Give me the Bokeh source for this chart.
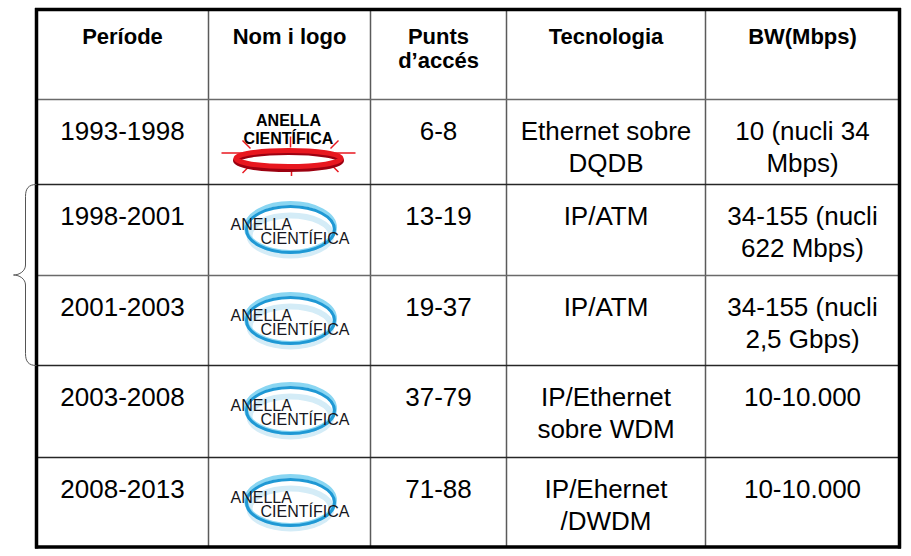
from bokeh.plotting import figure
from bokeh.models import Range1d, ColumnDataSource
from bokeh.core.properties import value
from bokeh.embed import file_html
from bokeh.resources import INLINE

# ---------------- data ----------------
headers = ["Període", "Nom i logo", "Punts\nd’accés", "Tecnologia", "BW(Mbps)"]
periods = ["1993-1998", "1998-2001", "2001-2003", "2003-2008", "2008-2013"]
logo_styles = ["red", "blue", "blue", "blue", "blue"]
access_points = ["6-8", "13-19", "19-37", "37-79", "71-88"]
technology = ["Ethernet sobre\nDQDB", "IP/ATM", "IP/ATM",
              "IP/Ethernet\nsobre WDM", "IP/Ehernet\n/DWDM"]
bandwidth = ["10 (nucli 34\nMbps)", "34-155 (nucli\n622 Mbps)",
             "34-155 (nucli\n2,5 Gbps)", "10-10.000", "10-10.000"]
logo_words = ["ANELLA", "CIENTÍFICA"]
brace_rows = [1, 2]  # rows grouped by the brace on the left

# ---------------- layout (page pixels) ----------------
col_edges = [36, 208, 370, 506, 705, 899]
row_edges = [9, 99, 184, 275, 365, 457, 546.5]
col_centers = [(a + b) / 2 for a, b in zip(col_edges[:-1], col_edges[1:])]

FONT = value("Liberation Sans")
W, H = 908, 553

p = figure(width=W, height=H, x_range=Range1d(0, W), y_range=Range1d(H, 0),
           output_backend="svg", toolbar_location=None, min_border=0,
           x_axis_location=None, y_axis_location=None)
p.grid.visible = False
p.outline_line_color = None
p.background_fill_color = "white"
p.border_fill_color = "white"

# ---------------- grid lines ----------------
inner_v = col_edges[1:-1]
p.segment(x0=inner_v, y0=[row_edges[0]] * len(inner_v), x1=inner_v,
          y1=[row_edges[-1]] * len(inner_v), line_color="#5a5a5a", line_width=1.5)
inner_h = row_edges[1:-1]
h_colors = ["#6a6a6a", "#262626", "#6a6a6a", "#262626", "#262626"]
p.segment(x0=[col_edges[0]] * len(inner_h), y0=inner_h, x1=[col_edges[-1]] * len(inner_h),
          y1=inner_h, line_color=h_colors, line_width=1.5)
# outer border
L, R, T, B = col_edges[0], col_edges[-1], row_edges[0], row_edges[-1]
p.segment(x0=[L, R, L - 1.5, L - 1.5], y0=[T - 1.5, T - 1.5, T, B],
          x1=[L, R, R + 1.5, R + 1.5], y1=[B + 1.5, B + 1.5, T, B],
          line_color="black", line_width=3.5)

# ---------------- brace ----------------
by0 = row_edges[brace_rows[0] + 1]
by1 = row_edges[brace_rows[-1] + 2]
bm = (by0 + by1) / 2
bx = L - 11
tip = L - 23
p.bezier(x0=[L, bx, tip, bx], y0=[by0, bm - 10, bm, by1 - 12],
         x1=[bx, tip, bx, L], y1=[by0 + 12, bm, bm + 10, by1],
         cx0=[L - 8, bx, tip + 6, bx], cy0=[by0, bm - 4, bm, by1 - 4],
         cx1=[bx, tip + 6, bx, L - 8], cy1=[by0 + 4, bm, bm + 4, by1],
         line_color="#555555", line_width=1)
p.segment(x0=[bx, bx], y0=[by0 + 12, bm + 10], x1=[bx, bx], y1=[bm - 10, by1 - 12],
          line_color="#555555", line_width=1)

# ---------------- logos ----------------
lx = col_centers[1]
for r, style in enumerate(logo_styles):
    top = row_edges[r + 1]
    if style == "red":
        cx, cy = lx - 1, top + 59.5
        p.segment(x0=[cx - 67], y0=[cy - 6], x1=[cx + 67], y1=[cy - 6],
                  line_color="#e8171f", line_width=1.5)
        sx0 = [-46, 2, 50, -46, 3, 50]
        sy0 = [-18.5, -22.5, -18.5, 14, 11, 13]
        sx1 = [-38, 2, 42, -40, 3, 44]
        sy1 = [-10.5, -11.5, -10.5, 8, 17, 7]
        p.segment(x0=[cx + v for v in sx0], y0=[cy + v for v in sy0],
                  x1=[cx + v for v in sx1], y1=[cy + v for v in sy1],
                  line_color="#e8171f", line_width=1.5)
        p.ellipse(x=[cx], y=[cy + 1.5], width=[105], height=[17], fill_color=None,
                  line_color="#9c0010", line_width=6)
        p.ellipse(x=[cx], y=[cy - 0.5], width=[105], height=[16], fill_color=None,
                  line_color="#e8171f", line_width=5)
        p.text(x=[cx, cx], y=[top + 21, top + 39], text=logo_words,
               text_align="center", text_baseline="alphabetic",
               text_font=FONT, text_font_style="bold", text_font_size="16px",
               text_color="black")
    else:
        cx, cy = lx + 1, top + 43
        p.ellipse(x=[cx], y=[cy + 8], width=[82], height=[40], fill_color=None,
                  line_color="#d4ecf7", line_width=6)
        p.ellipse(x=[cx], y=[cy], width=[89], height=[49], fill_color=None,
                  line_color="#8ad6f2", line_width=4)
        p.ellipse(x=[cx], y=[cy + 2], width=[88], height=[46], fill_color=None,
                  line_color="#1f98d4", line_width=3)
        p.text(x=[lx - 59, lx - 29], y=[top + 40, top + 54], text=logo_words,
               text_align="left", text_baseline="alphabetic",
               text_font=FONT, text_font_size="16px", text_color="#161620")

# ---------------- texts ----------------
hx, hy, ht = [], [], []
for c, h in enumerate(headers):
    for k, ln in enumerate(h.split("\n")):
        hx.append(col_centers[c]); hy.append(36 + 24 * k); ht.append(ln)
p.text(x="x", y="y", text="t", source=ColumnDataSource(dict(x=hx, y=hy, t=ht)),
       text_align="center", text_baseline="alphabetic", text_font=FONT,
       text_font_style="bold", text_font_size="22px", text_color="black")

bx_, by_, bt = [], [], []
for r in range(len(periods)):
    top = row_edges[r + 1]
    cells = [periods[r], None, access_points[r], technology[r], bandwidth[r]]
    for c, cell in enumerate(cells):
        if cell is None:
            continue
        for k, ln in enumerate(cell.split("\n")):
            bx_.append(col_centers[c]); by_.append(top + 31 + 32 * k); bt.append(ln)
p.text(x="x", y="y", text="t", source=ColumnDataSource(dict(x=bx_, y=by_, t=bt)),
       text_align="center", text_baseline="alphabetic", text_font=FONT,
       text_font_size="26px", text_color="black")

open("out.html", "w").write(file_html(p, INLINE))
